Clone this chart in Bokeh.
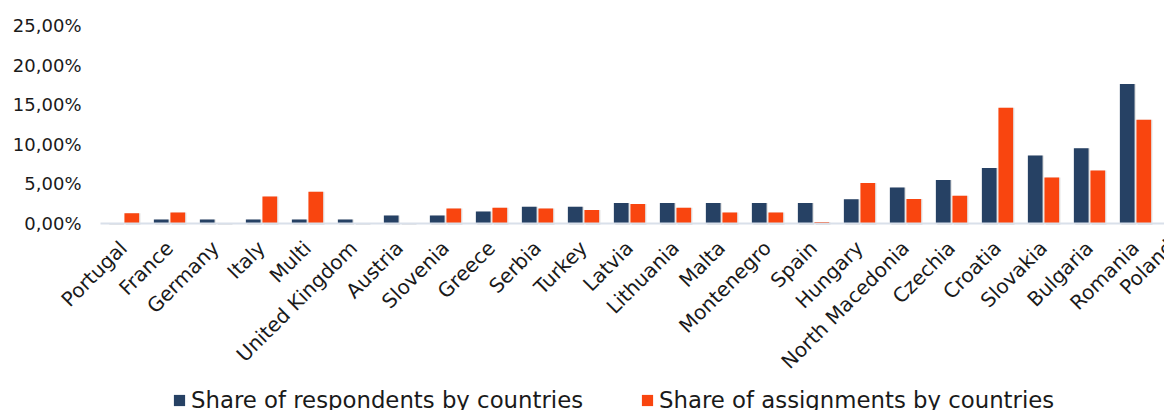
import math

from bokeh.embed import file_html
from bokeh.models import (ColumnDataSource, FixedTicker, Label, Legend,
                          LegendItem, Range1d)
from bokeh.plotting import figure
from bokeh.resources import INLINE
from bokeh.transform import dodge

# Share of survey respondents and of assignments per country, in percent
countries = [
    "Portugal", "France", "Germany", "Italy", "Multi", "United Kingdom",
    "Austria", "Slovenia", "Greece", "Serbia", "Turkey", "Latvia",
    "Lithuania", "Malta", "Montenegro", "Spain", "Hungary",
    "North Macedonia", "Czechia", "Croatia", "Slovakia", "Bulgaria",
    "Romania", "Poland",
]
respondents = [
    0.0, 0.5, 0.5, 0.5, 0.5, 0.5, 1.0, 1.0, 1.5, 2.1, 2.1, 2.6,
    2.6, 2.6, 2.6, 2.6, 3.05, 4.55, 5.5, 7.0, 8.6, 9.5, 17.6, float("nan"),
]
assignments = [
    1.3, 1.4, 0.0, 3.4, 4.0, 0.0, 0.0, 1.9, 2.0, 1.9, 1.7, 2.45,
    2.0, 1.4, 1.4, 0.2, 5.1, 3.1, 3.5, 14.6, 5.8, 6.7, 13.1, float("nan"),
]
y_ticks = [0, 5, 10, 15, 20, 25]
y_tick_labels = ["0,00%", "5,00%", "10,00%", "15,00%", "20,00%", "25,00%"]

NAVY = "#264164"
ORANGE = "#F9450F"
FONT = "DejaVu Sans"
TEXT = "#1a1a1a"
BASE = "#D9E0EA"

# The frame fills the whole canvas; both axes are pinned inside it so the
# slanted names, the percentage labels and the legend all sit in the frame.
W, H = 1164, 410
LEFT_PX, TOP_PX, BAR_PX = 100, 25, 198   # bar area: x from 100 px, 0..25 % over 198 px
CAT_PX = 46                              # width of one country slot

x_first = -0.5
x_start = x_first - LEFT_PX / CAT_PX
x_end = x_first + (W - LEFT_PX) / CAT_PX
y_per_px = y_ticks[-1] / BAR_PX
y_end = y_ticks[-1] + TOP_PX * y_per_px
y_start = -(H - TOP_PX - BAR_PX) * y_per_px

positions = list(range(len(countries)))
source = ColumnDataSource(dict(pos=positions, resp=respondents, assign=assignments))

p = figure(
    frame_width=W, frame_height=H,
    output_backend="svg", toolbar_location=None,
    x_range=Range1d(x_start, x_end), y_range=Range1d(y_start, y_end),
    min_border_left=0, min_border_right=0,
    min_border_top=0, min_border_bottom=0,
)
p.outline_line_color = None
p.grid.grid_line_color = None

# soft drop shadow under every bar
for off, col in ((-0.18, "resp"), (0.18, "assign")):
    p.vbar(x=dodge("pos", off + 0.03, range=p.x_range), top=col, bottom=-0.2,
           width=0.32, source=source, fill_color="#000000", fill_alpha=0.10,
           line_color=None)

r_resp = p.vbar(x=dodge("pos", -0.18, range=p.x_range), top="resp", width=0.32,
                source=source, fill_color=NAVY, line_color=None)
r_assign = p.vbar(x=dodge("pos", 0.18, range=p.x_range), top="assign", width=0.32,
                  source=source, fill_color=ORANGE, line_color=None)

# y axis pinned at the left edge of the bar area: percentage labels only
yax = p.yaxis[0]
yax.fixed_location = x_first
yax.ticker = FixedTicker(ticks=y_ticks)
yax.major_label_overrides = dict(zip(y_ticks, y_tick_labels))
yax.axis_line_color = None
yax.major_tick_line_color = None
yax.minor_tick_line_color = None
yax.major_tick_out = 0
yax.major_label_standoff = 19
yax.major_label_text_font = FONT
yax.major_label_text_font_size = "18px"
yax.major_label_text_color = TEXT

# x axis pinned to the 0 % baseline, slanted country names under it
xax = p.xaxis[0]
xax.fixed_location = 0
xax.bounds = (x_first, x_end)
xax.ticker = FixedTicker(ticks=positions)
xax.major_label_overrides = dict(zip(positions, countries))
xax.major_label_orientation = math.pi / 4
xax.axis_line_color = BASE
xax.axis_line_width = 2
xax.major_tick_line_color = None
xax.minor_tick_line_color = None
xax.major_tick_out = 0
xax.major_label_standoff = 21
xax.major_label_text_font = FONT
xax.major_label_text_font_size = "20px"
xax.major_label_text_color = TEXT

# the last country's name falls past the right edge of the canvas
last = len(countries) - 1
p.add_layout(Label(
    x=positions[last], y=0, x_units="data", y_units="data",
    text=countries[last], angle=math.pi / 4, x_offset=-11, y_offset=-20,
    text_align="right", text_baseline="middle",
    text_font=FONT, text_font_size="20px", text_color=TEXT,
))

legend = Legend(
    items=[
        LegendItem(label="Share of respondents by countries", renderers=[r_resp]),
        LegendItem(label="Share of assignments by countries", renderers=[r_assign]),
    ],
    orientation="horizontal", location=(172, -3),
    glyph_width=14, glyph_height=14, label_height=27,
    label_standoff=5, spacing=57,
    label_text_font=FONT, label_text_font_size="22.8px", label_text_color=TEXT,
    border_line_color=None, background_fill_alpha=0, padding=0, margin=0,
)
p.add_layout(legend, "center")

open("out.html", "w").write(file_html(p, INLINE))
